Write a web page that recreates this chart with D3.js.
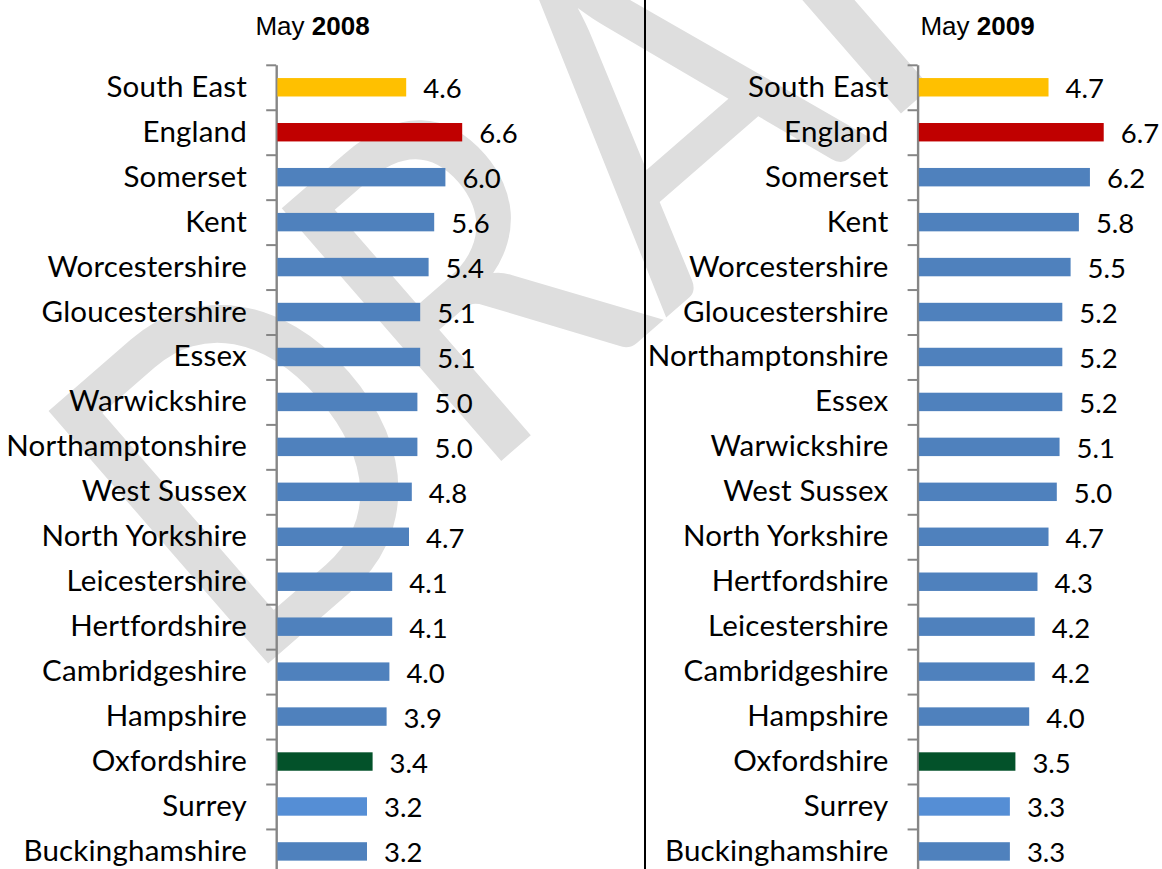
<!DOCTYPE html>
<html>
<head>
<meta charset="utf-8">
<script src="https://cdn.jsdelivr.net/npm/d3@7/dist/d3.min.js"></script>
<style>
  html, body { margin: 0; padding: 0; background: #ffffff; }
  svg { display: block; }
</style>
</head>
<body>
<svg id="chart" width="1162" height="869"></svg>
<script>
// ---- data ----
const categories2008 = ["South East","England","Somerset","Kent","Worcestershire","Gloucestershire","Essex","Warwickshire","Northamptonshire","West Sussex","North Yorkshire","Leicestershire","Hertfordshire","Cambridgeshire","Hampshire","Oxfordshire","Surrey","Buckinghamshire"];
const values2008 = [4.6,6.6,6.0,5.6,5.4,5.1,5.1,5.0,5.0,4.8,4.7,4.1,4.1,4.0,3.9,3.4,3.2,3.2];
const categories2009 = ["South East","England","Somerset","Kent","Worcestershire","Gloucestershire","Northamptonshire","Essex","Warwickshire","West Sussex","North Yorkshire","Hertfordshire","Leicestershire","Cambridgeshire","Hampshire","Oxfordshire","Surrey","Buckinghamshire"];
const values2009 = [4.7,6.7,6.2,5.8,5.5,5.2,5.2,5.2,5.1,5.0,4.7,4.3,4.2,4.2,4.0,3.5,3.3,3.3];
const panelTitles = [["May ","2008"],["May ","2009"]];
const watermarkText = "DRAFT";

const colorFor = name => ({
  "South East": "#FFC000",
  "England": "#C00000",
  "Oxfordshire": "#03522A",
  "Surrey": "#558ED5"
}[name] || "#4F81BD");

const svg = d3.select("#chart");
const W = 1162, H = 869;

// ---- watermark ----
svg.append("text")
  .attr("transform", "translate(240,688) rotate(-41) scale(0.87,1)")
  .attr("font-family", "Lato")
  .attr("font-size", 467)
  .attr("fill", "#dedede")
  .text(watermarkText);

// ---- divider ----
svg.append("line")
  .attr("x1", 645).attr("x2", 645).attr("y1", 0).attr("y2", H)
  .attr("stroke", "#000").attr("stroke-width", 2);

const rowTop = 64.8, step = 44.95;

function panel(cats, vals, opts) {
  const n = cats.length;
  const y = d3.scaleBand().domain(cats)
    .range([rowTop, rowTop + n * step])
    .paddingInner(0.59).paddingOuter(0.295);
  const yIdx = d3.scaleLinear().domain([0, n]).range([rowTop, rowTop + n * step]);
  const x = d3.scaleLinear().domain([0, 7]).range([opts.x0, opts.x0 + 7 * opts.unit]);
  const g = svg.append("g");

  // axis with boundary ticks
  const ax = g.append("g")
    .attr("transform", `translate(${opts.axisX},0)`)
    .call(d3.axisLeft(yIdx).tickValues(d3.range(0, n + 1)).tickSize(10).tickSizeOuter(0).tickFormat(""));
  ax.select(".domain").attr("stroke", "#868686").attr("stroke-width", 2.4);
  ax.selectAll(".tick line").attr("stroke", "#868686").attr("stroke-width", 2);

  const data = cats.map((c, i) => ({ c, v: vals[i] }));
  g.selectAll("rect.bar").data(data).join("rect")
    .attr("class", "bar")
    .attr("x", x(0))
    .attr("y", d => y(d.c))
    .attr("width", d => x(d.v) - x(0))
    .attr("height", y.bandwidth())
    .attr("fill", d => colorFor(d.c));

  g.selectAll("text.val").data(data).join("text")
    .attr("class", "val")
    .attr("x", d => x(d.v) + 17)
    .attr("y", d => y(d.c) + y.bandwidth() / 2 + 11)
    .attr("font-family", "Lato")
    .attr("font-size", 27.5)
    .attr("fill", "#000")
    .text(d => d.v.toFixed(1));

  g.selectAll("text.cat").data(data).join("text")
    .attr("class", "cat")
    .attr("x", opts.labelEnd)
    .attr("y", d => y(d.c) + y.bandwidth() / 2 + 9.5)
    .attr("text-anchor", "end")
    .attr("font-family", "Lato")
    .attr("font-size", 29.5)
    .attr("letter-spacing", 0.2)
    .attr("fill", "#000")
    .text(d => d.c);

  const t = g.append("text")
    .attr("x", opts.titleX).attr("y", 35)
    .attr("text-anchor", "middle")
    .attr("font-family", "Liberation Sans, Arial, sans-serif")
    .attr("font-size", 26)
    .attr("fill", "#000");
  t.append("tspan").text(opts.title[0]);
  t.append("tspan").attr("font-weight", "bold").text(opts.title[1]);
}

panel(categories2008, values2008, { axisX: 276.2, x0: 277.4, unit: 28.0, labelEnd: 247, titleX: 312.5, title: panelTitles[0] });
panel(categories2009, values2009, { axisX: 917.6, x0: 918.8, unit: 27.6, labelEnd: 888.5, titleX: 977.5, title: panelTitles[1] });
</script>
</body>
</html>
